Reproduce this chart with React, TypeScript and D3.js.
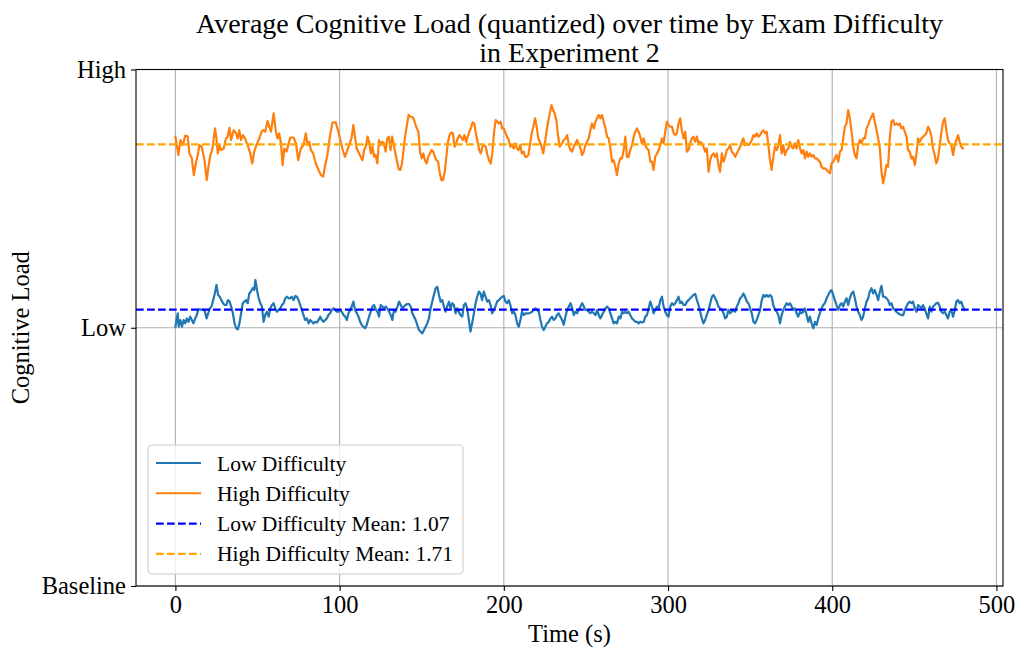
import React, { useRef, useEffect } from 'react'
import * as d3 from 'd3'

// [time (s), average quantized cognitive load]
const highDifficulty: [number, number][] = [
  [0, 1.74], [1.8, 1.669], [3.1, 1.727], [4.1, 1.707], [5.1, 1.72], [5.9, 1.743], [7.1, 1.743], [7.5, 1.74],
  [8.5, 1.675], [10, 1.656], [11.2, 1.591], [12.6, 1.643], [13.6, 1.669], [14.6, 1.707], [16, 1.701], [17.7, 1.649],
  [19.1, 1.572], [20.1, 1.623], [21.3, 1.669], [22.1, 1.682], [22.9, 1.707], [24.1, 1.772], [25, 1.733], [25.8, 1.675],
  [26.8, 1.707], [27.8, 1.688], [29.4, 1.694], [30.8, 1.733], [31.8, 1.74], [32.9, 1.774], [33.9, 1.727], [35.5, 1.765],
  [36.9, 1.753], [37.9, 1.733], [38.9, 1.765], [39.9, 1.727], [41, 1.746], [42.4, 1.733], [44, 1.707], [45.6, 1.675],
  [46.8, 1.636], [48, 1.682], [49.7, 1.714], [51.1, 1.733], [52.5, 1.759], [53.7, 1.765], [54.7, 1.759], [56.1, 1.8],
  [57.2, 1.778], [58.2, 1.759], [59.8, 1.83], [61.2, 1.759], [62.2, 1.733], [63.2, 1.753], [64.3, 1.714], [65.3, 1.63],
  [66.3, 1.694], [67.7, 1.682], [68.7, 1.707], [69.9, 1.736], [72, 1.736], [73.4, 1.714], [74.8, 1.649], [76.4, 1.694],
  [78, 1.707], [79.4, 1.753], [80.5, 1.707], [81.5, 1.72], [82.5, 1.688], [83.9, 1.675], [85.5, 1.636], [87.2, 1.611],
  [88.6, 1.591], [90, 1.585], [91, 1.623], [92.6, 1.669], [94.2, 1.746], [95.7, 1.795], [97.7, 1.795], [99.7, 1.746],
  [101.7, 1.694], [103.2, 1.662], [104.4, 1.682], [105.8, 1.707], [107.2, 1.733], [108.4, 1.785], [109.2, 1.746], [110.4, 1.694],
  [111.9, 1.675], [113.9, 1.649], [114.9, 1.688], [115.9, 1.701], [117, 1.74], [118, 1.72], [119, 1.675], [120, 1.701],
  [121, 1.662], [122, 1.669], [123, 1.636], [124, 1.727], [125, 1.707], [126, 1.72], [127, 1.714], [128, 1.682],
  [129, 1.733], [130, 1.74], [131, 1.688], [132, 1.74], [133, 1.707], [134, 1.675], [135, 1.643], [136, 1.614],
  [137, 1.611], [138, 1.636], [139, 1.694], [140, 1.746], [141, 1.785], [142, 1.824], [143, 1.817], [144, 1.817],
  [145, 1.811], [146, 1.791], [147, 1.772], [148, 1.759], [149, 1.682], [150, 1.656], [151, 1.675], [152, 1.649],
  [153, 1.636], [154, 1.662], [155, 1.675], [156, 1.688], [157, 1.682], [158, 1.662], [159, 1.649], [160, 1.643],
  [161, 1.598], [162, 1.572], [163, 1.572], [164, 1.604], [165, 1.662], [166, 1.72], [167, 1.746], [168, 1.756],
  [169, 1.753], [170, 1.701], [171, 1.714], [172, 1.733], [173, 1.746], [175, 1.727], [176, 1.746], [177, 1.72],
  [178, 1.74], [179, 1.759], [180, 1.774], [181, 1.795], [182, 1.791], [183, 1.753], [184, 1.72], [185, 1.688],
  [186, 1.675], [187, 1.701], [188, 1.707], [189, 1.701], [190, 1.669], [191, 1.649], [192, 1.636], [193, 1.675],
  [194, 1.753], [195, 1.804], [196, 1.798], [197, 1.791], [198, 1.798], [199, 1.772], [200, 1.772], [201, 1.753],
  [202, 1.74], [203, 1.727], [204, 1.701], [205, 1.707], [206, 1.694], [207, 1.714], [208, 1.694], [209, 1.688],
  [210, 1.707], [211, 1.675], [212, 1.682], [213, 1.662], [214, 1.662], [215, 1.669], [216, 1.714], [217, 1.753],
  [218, 1.778], [219, 1.811], [220, 1.778], [221, 1.733], [222, 1.72], [223, 1.701], [224, 1.675], [225, 1.714],
  [226, 1.759], [227, 1.798], [228, 1.83], [229, 1.862], [230, 1.843], [231, 1.83], [232, 1.804], [233, 1.746],
  [234, 1.701], [235.5, 1.714], [236.5, 1.727], [237.5, 1.733], [238.6, 1.746], [239.6, 1.707], [240.6, 1.688], [241.6, 1.682],
  [242.6, 1.701], [243.6, 1.714], [244.6, 1.727], [245.6, 1.714], [246.7, 1.694], [247.7, 1.669], [248.7, 1.682], [249.7, 1.707],
  [250.7, 1.72], [251.7, 1.733], [252.7, 1.765], [253.7, 1.791], [254.8, 1.772], [255.8, 1.798], [256.8, 1.811], [257.8, 1.824],
  [258.8, 1.811], [259.8, 1.824], [260.8, 1.798], [261.9, 1.772], [262.9, 1.74], [263.9, 1.733], [264.9, 1.694], [265.9, 1.643],
  [266.9, 1.649], [267.9, 1.623], [268.9, 1.591], [270, 1.636], [271, 1.656], [272, 1.656], [273, 1.688], [274, 1.74],
  [275, 1.662], [276, 1.662], [277, 1.688], [278.1, 1.707], [279.1, 1.74], [280.1, 1.759], [281.1, 1.772], [282.1, 1.759],
  [283.1, 1.74], [284.1, 1.714], [285.2, 1.733], [286.2, 1.707], [287.2, 1.694], [288.2, 1.688], [289.2, 1.643], [290.2, 1.643],
  [291.2, 1.611], [292.2, 1.662], [293.3, 1.675], [294.3, 1.688], [295.3, 1.707], [296.3, 1.733], [297.3, 1.714], [298.3, 1.759],
  [299.3, 1.798], [300.3, 1.785], [301.4, 1.778], [302.4, 1.778], [303.4, 1.753], [304.4, 1.746], [305.4, 1.753], [306.4, 1.791],
  [307.4, 1.811], [308.4, 1.765], [309.5, 1.733], [310.5, 1.759], [311.5, 1.682], [312.5, 1.688], [313.5, 1.714], [314.5, 1.733],
  [315.5, 1.74], [316.6, 1.72], [317.6, 1.74], [318.6, 1.714], [319.6, 1.72], [320.6, 1.714], [321.6, 1.701], [322.6, 1.682],
  [323.6, 1.694], [324.7, 1.604], [325.7, 1.649], [326.7, 1.669], [327.7, 1.675], [328.7, 1.662], [329.7, 1.675], [330.7, 1.63],
  [331.7, 1.604], [332.8, 1.675], [333.8, 1.643], [334.8, 1.662], [335.8, 1.688], [336.8, 1.694], [337.8, 1.707], [338.8, 1.682],
  [339.9, 1.675], [340.9, 1.662], [341.9, 1.675], [342.9, 1.688], [343.9, 1.701], [344.9, 1.72], [345.9, 1.733], [346.9, 1.707],
  [348, 1.714], [349, 1.707], [350, 1.714], [351, 1.727], [352, 1.746], [353, 1.74], [354, 1.753], [355, 1.74],
  [356.1, 1.746], [357.1, 1.759], [358.1, 1.765], [359.1, 1.753], [360.1, 1.759], [361.1, 1.707], [362.1, 1.649], [363.1, 1.611],
  [364.1, 1.662], [365.2, 1.701], [366.2, 1.688], [367.2, 1.707], [368.2, 1.746], [369.2, 1.675], [370.2, 1.707], [371.2, 1.669],
  [372.2, 1.688], [373.3, 1.694], [374.3, 1.72], [375.3, 1.701], [376.3, 1.694], [377.3, 1.714], [378.3, 1.694], [379.3, 1.727],
  [380.4, 1.694], [381.4, 1.675], [382.4, 1.688], [383.4, 1.656], [384.4, 1.682], [385.4, 1.662], [386.4, 1.675], [387.4, 1.662],
  [388.5, 1.669], [389.5, 1.656], [390.5, 1.656], [391.5, 1.649], [392.5, 1.643], [393.5, 1.623], [394.5, 1.617], [395.5, 1.617],
  [396.6, 1.611], [397.6, 1.604], [398.6, 1.598], [399.6, 1.636], [400.6, 1.643], [401.6, 1.656], [402.6, 1.669], [403.7, 1.643],
  [404.7, 1.682], [405.7, 1.688], [406.7, 1.733], [407.7, 1.778], [408.7, 1.791], [409.7, 1.843], [410.7, 1.811], [411.8, 1.759],
  [412.8, 1.701], [413.8, 1.669], [414.8, 1.656], [415.8, 1.707], [416.8, 1.727], [417.8, 1.714], [418.8, 1.733], [419.9, 1.733],
  [420.9, 1.772], [421.9, 1.785], [422.9, 1.804], [423.9, 1.817], [424.9, 1.83], [425.9, 1.798], [427, 1.765], [428, 1.733],
  [429, 1.694], [430, 1.604], [431, 1.559], [432, 1.591], [433, 1.63], [434, 1.623], [435.1, 1.74], [436.1, 1.798],
  [437.1, 1.804], [438.1, 1.785], [439.1, 1.791], [440.1, 1.785], [441.1, 1.791], [442.1, 1.772], [443.2, 1.778], [444.2, 1.759],
  [445.2, 1.74], [446.2, 1.688], [447.2, 1.682], [448.2, 1.656], [449.2, 1.662], [450.3, 1.63], [451.3, 1.675], [452.3, 1.733],
  [453.3, 1.72], [454.3, 1.733], [455.3, 1.74], [456.3, 1.746], [457.3, 1.753], [458.4, 1.778], [459.4, 1.765], [460.4, 1.74],
  [461.4, 1.694], [462.4, 1.669], [463.4, 1.636], [464.4, 1.656], [465.5, 1.707], [466.5, 1.759], [467.5, 1.798], [468.5, 1.811],
  [469.5, 1.765], [470.5, 1.727], [471.5, 1.714], [472.5, 1.707], [473.6, 1.669], [474.6, 1.707], [475.6, 1.727], [476.6, 1.746],
  [477.6, 1.72], [478.6, 1.701], [479.6, 1.694],
]

const lowDifficulty: [number, number][] = [
  [0, 1.004], [1.4, 1.056], [2, 1.004], [3, 1.03], [4, 1.004], [5, 1.03], [6, 1.017], [7, 1.036],
  [8, 1.023], [9, 1.043], [10, 1.03], [11, 1.017], [12, 1.036], [13, 1.049], [14, 1.071], [15, 1.071],
  [16, 1.069], [17, 1.071], [18, 1.062], [19, 1.036], [20, 1.056], [21, 1.075], [22, 1.082], [23, 1.107],
  [24, 1.133], [25, 1.166], [26, 1.127], [27, 1.12], [28, 1.107], [29, 1.095], [30, 1.088], [31, 1.088],
  [32, 1.107], [33, 1.101], [34, 1.082], [35, 1.056], [36, 1.017], [37, 0.998], [38, 0.994], [39, 1.017],
  [40, 1.056], [41, 1.095], [42, 1.101], [43, 1.107], [44, 1.095], [45, 1.133], [46, 1.14], [47, 1.153],
  [48, 1.146], [48.7, 1.185], [49.7, 1.146], [50.5, 1.12], [51.7, 1.095], [52.7, 1.082], [53.7, 1.023], [54.7, 1.049],
  [55.7, 1.062], [56.8, 1.043], [57.8, 1.075], [58.8, 1.088], [59.8, 1.095], [60.8, 1.075], [61.8, 1.062], [62.8, 1.069],
  [63.9, 1.075], [64.9, 1.088], [65.9, 1.095], [66.9, 1.114], [67.9, 1.12], [68.9, 1.114], [69.9, 1.114], [70.9, 1.12],
  [72, 1.107], [73, 1.123], [74, 1.12], [75, 1.107], [76, 1.088], [77, 1.069], [78, 1.049], [79, 1.03],
  [80.1, 1.036], [81.1, 1.017], [82.1, 1.03], [83.1, 1.023], [84.1, 1.017], [85.1, 1.023], [86.1, 1.02], [87.2, 1.03],
  [88.2, 1.043], [89.2, 1.03], [90.2, 1.023], [91.2, 1.03], [92.2, 1.036], [93.2, 1.049], [94.2, 1.056], [95.3, 1.069],
  [96.3, 1.075], [97.3, 1.069], [98.3, 1.062], [99.3, 1.062], [100.3, 1.069], [101.3, 1.062], [102.4, 1.049], [103.4, 1.043],
  [104.4, 1.03], [105.4, 1.056], [106.4, 1.069], [107.4, 1.082], [108.4, 1.101], [109.4, 1.069], [110.5, 1.056], [111.5, 1.043],
  [112.5, 1.023], [113.5, 1.011], [114.5, 1.004], [115.5, 0.998], [116.5, 1.011], [117.6, 1.036], [118.6, 1.056], [120, 1.082],
  [121, 1.088], [122, 1.071], [123, 1.062], [124, 1.043], [125, 1.088], [126, 1.082], [127, 1.075], [128.1, 1.082],
  [129.1, 1.075], [130.1, 1.062], [131.1, 1.049], [132.1, 1.03], [133.1, 1.069], [134.1, 1.062], [135.2, 1.082], [136.2, 1.101],
  [137.2, 1.088], [138.2, 1.075], [139.2, 1.082], [140.2, 1.088], [141.2, 1.092], [142.2, 1.092], [143.3, 1.082], [144.3, 1.056],
  [145.3, 1.043], [146.3, 1.03], [147.3, 1.011], [148.3, 0.991], [149.3, 0.985], [150.3, 0.978], [151.4, 0.991], [152.4, 1.004],
  [153.4, 1.017], [154.4, 1.036], [155.4, 1.075], [156.4, 1.101], [157.4, 1.127], [158.5, 1.153], [159.5, 1.159], [160.5, 1.127],
  [161.5, 1.101], [162.5, 1.107], [163.5, 1.082], [164.5, 1.062], [165.5, 1.082], [166.6, 1.101], [167.6, 1.075], [168.6, 1.095],
  [169.6, 1.088], [170.6, 1.056], [171.6, 1.075], [172.6, 1.062], [173.6, 1.049], [174.7, 1.043], [175.7, 1.088], [176.7, 1.095],
  [177.7, 1.075], [178.7, 1.03], [179.7, 0.985], [180.7, 1.017], [181.8, 1.056], [182.8, 1.095], [183.8, 1.12], [184.8, 1.14],
  [185.8, 1.133], [186.8, 1.107], [187.8, 1.14], [188.9, 1.12], [189.9, 1.101], [190.9, 1.107], [191.9, 1.088], [192.9, 1.056],
  [193.9, 1.069], [194.9, 1.082], [195.9, 1.101], [197, 1.107], [198, 1.114], [199, 1.12], [200, 1.123], [201, 1.101],
  [202, 1.095], [203, 1.107], [204, 1.088], [205.1, 1.056], [206.1, 1.062], [207.1, 1.049], [208.1, 1.017], [209.1, 1.004],
  [210.1, 1.03], [211.1, 1.062], [212.2, 1.049], [213.2, 1.056], [214.2, 1.056], [215.2, 1.056], [216.2, 1.058], [217.2, 1.062],
  [218.2, 1.069], [219.2, 1.075], [220.3, 1.069], [221.3, 1.062], [222.3, 1.03], [223.3, 1.004], [224.3, 0.991], [225.3, 1.004],
  [226.3, 1.017], [227.4, 1.023], [228.4, 1.036], [229.4, 1.043], [230.4, 1.03], [231.4, 1.036], [232.4, 1.049], [233.4, 1.056],
  [234.4, 1.043], [235.5, 1.03], [236.5, 1.011], [237.5, 1.043], [238.6, 1.069], [239.6, 1.082], [240.6, 1.095], [241.6, 1.075],
  [242.6, 1.049], [243.6, 1.062], [244.6, 1.056], [245.6, 1.069], [246.7, 1.082], [247.7, 1.095], [248.7, 1.082], [249.7, 1.069],
  [250.7, 1.069], [251.7, 1.062], [252.7, 1.056], [253.7, 1.062], [254.8, 1.056], [255.8, 1.049], [256.8, 1.069], [257.8, 1.049],
  [258.8, 1.036], [259.8, 1.049], [260.8, 1.062], [261.9, 1.075], [262.9, 1.082], [263.9, 1.075], [264.9, 1.056], [265.9, 1.036],
  [266.9, 1.017], [267.9, 1.023], [268.9, 1.017], [270, 1.043], [271, 1.036], [272, 1.062], [273, 1.056], [274, 1.062],
  [275, 1.056], [276, 1.062], [277, 1.049], [278.1, 1.036], [279.1, 1.03], [280.1, 1.023], [281.1, 1.023], [282.1, 1.017],
  [283.1, 1.023], [284.1, 1.02], [285.2, 1.023], [286.2, 1.043], [287.2, 1.049], [288.2, 1.075], [289.2, 1.101], [290.2, 1.082],
  [291.2, 1.056], [292.2, 1.069], [293.3, 1.082], [294.3, 1.075], [295.3, 1.107], [296.3, 1.12], [297.3, 1.082], [298.3, 1.062],
  [299.3, 1.049], [300.3, 1.043], [301.4, 1.082], [302.4, 1.095], [303.4, 1.088], [304.4, 1.095], [305.4, 1.107], [306.4, 1.12],
  [307.4, 1.095], [308.4, 1.101], [309.5, 1.088], [310.5, 1.088], [311.5, 1.101], [312.5, 1.107], [313.5, 1.114], [314.5, 1.12],
  [315.5, 1.127], [316.6, 1.131], [317.6, 1.107], [318.6, 1.088], [319.6, 1.062], [320.6, 1.036], [321.6, 1.017], [322.6, 1.03],
  [323.6, 1.049], [324.7, 1.069], [325.7, 1.095], [326.7, 1.12], [327.7, 1.127], [328.7, 1.114], [329.7, 1.101], [330.7, 1.082],
  [331.7, 1.075], [332.8, 1.069], [333.8, 1.056], [334.8, 1.036], [335.8, 1.043], [336.8, 1.069], [337.8, 1.056], [338.8, 1.062],
  [339.9, 1.069], [340.9, 1.062], [341.9, 1.082], [342.9, 1.095], [343.9, 1.114], [344.9, 1.12], [345.9, 1.133], [346.9, 1.12],
  [348, 1.101], [349, 1.095], [350, 1.075], [351, 1.056], [352, 1.023], [353, 1.017], [354, 1.03], [355, 1.049],
  [356.1, 1.069], [357.1, 1.107], [358.1, 1.127], [359.1, 1.12], [360.1, 1.127], [361.1, 1.12], [362.1, 1.127], [363.1, 1.12],
  [364.1, 1.088], [365.2, 1.069], [366.2, 1.062], [367.2, 1.049], [368.2, 1.017], [369.2, 1.049], [370.2, 1.069], [371.2, 1.082],
  [372.2, 1.095], [373.3, 1.088], [374.3, 1.095], [375.3, 1.082], [376.3, 1.069], [377.3, 1.075], [378.3, 1.056], [379.3, 1.043],
  [380.4, 1.062], [381.4, 1.056], [382.4, 1.062], [383.4, 1.075], [384.4, 1.049], [385.4, 1.023], [386.4, 1.043], [387.4, 1.017],
  [388.5, 0.998], [389.5, 1.023], [390.5, 1.011], [391.5, 1.036], [392.5, 1.056], [393.5, 1.075], [394.5, 1.088], [395.5, 1.095],
  [396.6, 1.114], [397.6, 1.127], [398.6, 1.14], [399.6, 1.146], [400.6, 1.127], [401.6, 1.107], [402.6, 1.088], [403.7, 1.069],
  [404.7, 1.088], [405.7, 1.095], [406.7, 1.082], [407.7, 1.101], [408.7, 1.114], [409.7, 1.088], [410.7, 1.114], [411.8, 1.133],
  [412.8, 1.14], [413.8, 1.114], [414.8, 1.082], [415.8, 1.062], [416.8, 1.049], [417.8, 1.03], [418.8, 1.043], [419.9, 1.075],
  [420.9, 1.101], [421.9, 1.114], [422.9, 1.14], [423.9, 1.153], [424.9, 1.133], [425.9, 1.146], [427, 1.127], [428, 1.107],
  [429, 1.14], [430, 1.162], [431, 1.12], [432, 1.12], [433, 1.114], [434, 1.107], [435.1, 1.088], [436.1, 1.095],
  [437.1, 1.075], [438.1, 1.069], [439.1, 1.062], [440.1, 1.056], [441.1, 1.052], [442.1, 1.049], [443.2, 1.049], [444.2, 1.069],
  [445.2, 1.082], [446.2, 1.095], [447.2, 1.101], [448.2, 1.095], [449.2, 1.101], [450.3, 1.075], [451.3, 1.062], [452.3, 1.088],
  [453.3, 1.082], [454.3, 1.075], [455.3, 1.088], [456.3, 1.075], [457.3, 1.056], [458.4, 1.036], [459.4, 1.082], [460.4, 1.062],
  [461.4, 1.082], [462.4, 1.088], [463.4, 1.095], [464.4, 1.097], [465.5, 1.082], [466.5, 1.062], [467.5, 1.056], [468.5, 1.062],
  [469.5, 1.049], [470.5, 1.036], [471.5, 1.062], [472.5, 1.069], [473.6, 1.043], [474.6, 1.069], [475.6, 1.101], [476.6, 1.107],
  [477.6, 1.095], [478.6, 1.101], [479.6, 1.082], [480.6, 1.069],
]

const lowMean = 1.07
const highMean = 1.71
const xTicks = [0, 100, 200, 300, 400, 500]
const yTicks = [0, 1, 2]
const yTickLabels = ['Baseline', 'Low', 'High']
const legendItems = [
  { label: 'Low Difficulty', color: '#1f77b4', dashed: false },
  { label: 'High Difficulty', color: '#ff7f0e', dashed: false },
  { label: 'Low Difficulty Mean: 1.07', color: '#0000ff', dashed: true },
  { label: 'High Difficulty Mean: 1.71', color: '#ffa500', dashed: true },
]

const WIDTH = 1019
const HEIGHT = 650
const FONT = '"Liberation Serif", "DejaVu Serif", serif'

export default function App() {
  const svgRef = useRef(null)

  useEffect(() => {
    const svg = d3.select(svgRef.current)
    svg.selectAll('*').remove()

    const margin = { left: 136, right: WIDTH - 1003, top: 69.5, bottom: HEIGHT - 586 }
    const x = d3.scaleLinear().domain([-24, 504]).range([margin.left, WIDTH - margin.right])
    const y = d3.scaleLinear().domain([0, 2]).range([HEIGHT - margin.bottom, margin.top])

    svg.append('rect').attr('width', WIDTH).attr('height', HEIGHT).attr('fill', '#fff')

    //grid
    const grid = svg.append('g').attr('stroke', '#b0b0b0').attr('stroke-width', 1.1)
    grid.selectAll('.gx').data(xTicks).join('line')
      .attr('x1', (d) => x(d)).attr('x2', (d) => x(d))
      .attr('y1', y(0)).attr('y2', y(2))
    grid.selectAll('.gy').data(yTicks).join('line')
      .attr('x1', x(-24)).attr('x2', x(504))
      .attr('y1', (d) => y(d)).attr('y2', (d) => y(d))

    //series
    const line = d3.line<[number, number]>().x((d) => x(d[0])).y((d) => y(d[1]))
    svg.append('path').datum(lowDifficulty)
      .attr('d', line).attr('fill', 'none').attr('stroke', '#1f77b4')
      .attr('stroke-width', 2.2).attr('stroke-linejoin', 'round').attr('stroke-linecap', 'square')
    svg.append('path').datum(highDifficulty)
      .attr('d', line).attr('fill', 'none').attr('stroke', '#ff7f0e')
      .attr('stroke-width', 2.2).attr('stroke-linejoin', 'round').attr('stroke-linecap', 'square')

    //mean lines
    const means = [
      { v: lowMean, color: '#0000ff' },
      { v: highMean, color: '#ffa500' },
    ]
    svg.selectAll('.mean').data(means).join('line')
      .attr('x1', x(-24)).attr('x2', x(504))
      .attr('y1', (d) => y(d.v)).attr('y2', (d) => y(d.v))
      .attr('stroke', (d) => d.color).attr('stroke-width', 2.1)
      .attr('stroke-dasharray', '7.7,3.3')

    //axes
    const xAxis = svg.append('g')
      .attr('transform', `translate(0,${y(0)})`)
      .call(d3.axisBottom(x).tickValues(xTicks).tickSize(5).tickPadding(5).tickSizeOuter(0))
    const yAxis = svg.append('g')
      .attr('transform', `translate(${x(-24)},0)`)
      .call(
        d3.axisLeft(y).tickValues(yTicks).tickSize(5).tickPadding(5).tickSizeOuter(0)
          .tickFormat((d: any) => yTickLabels[d])
      )
    for (const ax of [xAxis, yAxis]) {
      ax.selectAll('text').attr('font-family', FONT).attr('font-size', 24.5).attr('fill', '#000')
      ax.selectAll('line').attr('stroke', '#000').attr('stroke-width', 1.1)
      ax.select('.domain').remove()
    }
    xAxis.selectAll('text').attr('dy', '0.71em')

    //frame
    svg.append('rect')
      .attr('x', x(-24)).attr('y', y(2))
      .attr('width', x(504) - x(-24)).attr('height', y(0) - y(2))
      .attr('fill', 'none').attr('stroke', '#000').attr('stroke-width', 1.1)

    //title and labels
    const cx = (x(-24) + x(504)) / 2
    const title = svg.append('text')
      .attr('text-anchor', 'middle').attr('font-family', FONT).attr('font-size', 28)
    title.append('tspan').attr('x', cx).attr('y', 33)
      .text('Average Cognitive Load (quantized) over time by Exam Difficulty')
    title.append('tspan').attr('x', cx).attr('y', 62)
      .text('in Experiment 2')

    svg.append('text')
      .attr('text-anchor', 'middle').attr('font-family', FONT).attr('font-size', 24.5)
      .attr('x', cx).attr('y', 642)
      .text('Time (s)')

    svg.append('text')
      .attr('text-anchor', 'middle').attr('font-family', FONT).attr('font-size', 24.5)
      .attr('transform', `translate(29,${(y(0) + y(2)) / 2}) rotate(-90)`)
      .text('Cognitive Load')

    //legend
    const legend = svg.append('g').attr('transform', 'translate(148,445)')
    legend.append('rect')
      .attr('width', 315).attr('height', 129).attr('rx', 4)
      .attr('fill', '#fff').attr('fill-opacity', 0.8)
      .attr('stroke', '#cccccc').attr('stroke-width', 1.1)
    const item = legend.selectAll('.item').data(legendItems).join('g')
      .attr('transform', (d, i) => `translate(0,${18 + i * 30.3})`)
    item.append('line')
      .attr('x1', 8).attr('x2', 53)
      .attr('stroke', (d) => d.color).attr('stroke-width', 2.1)
      .attr('stroke-dasharray', (d) => (d.dashed ? '7.7,3.3' : null))
    item.append('text')
      .attr('x', 69).attr('dy', '0.35em')
      .attr('font-family', FONT).attr('font-size', 21.5)
      .text((d) => d.label)
  }, [])

  return (
    <svg
      ref={svgRef}
      width={WIDTH}
      height={HEIGHT}
      style={{ position: 'absolute', left: 0, top: 0 }}
    />
  )
}
